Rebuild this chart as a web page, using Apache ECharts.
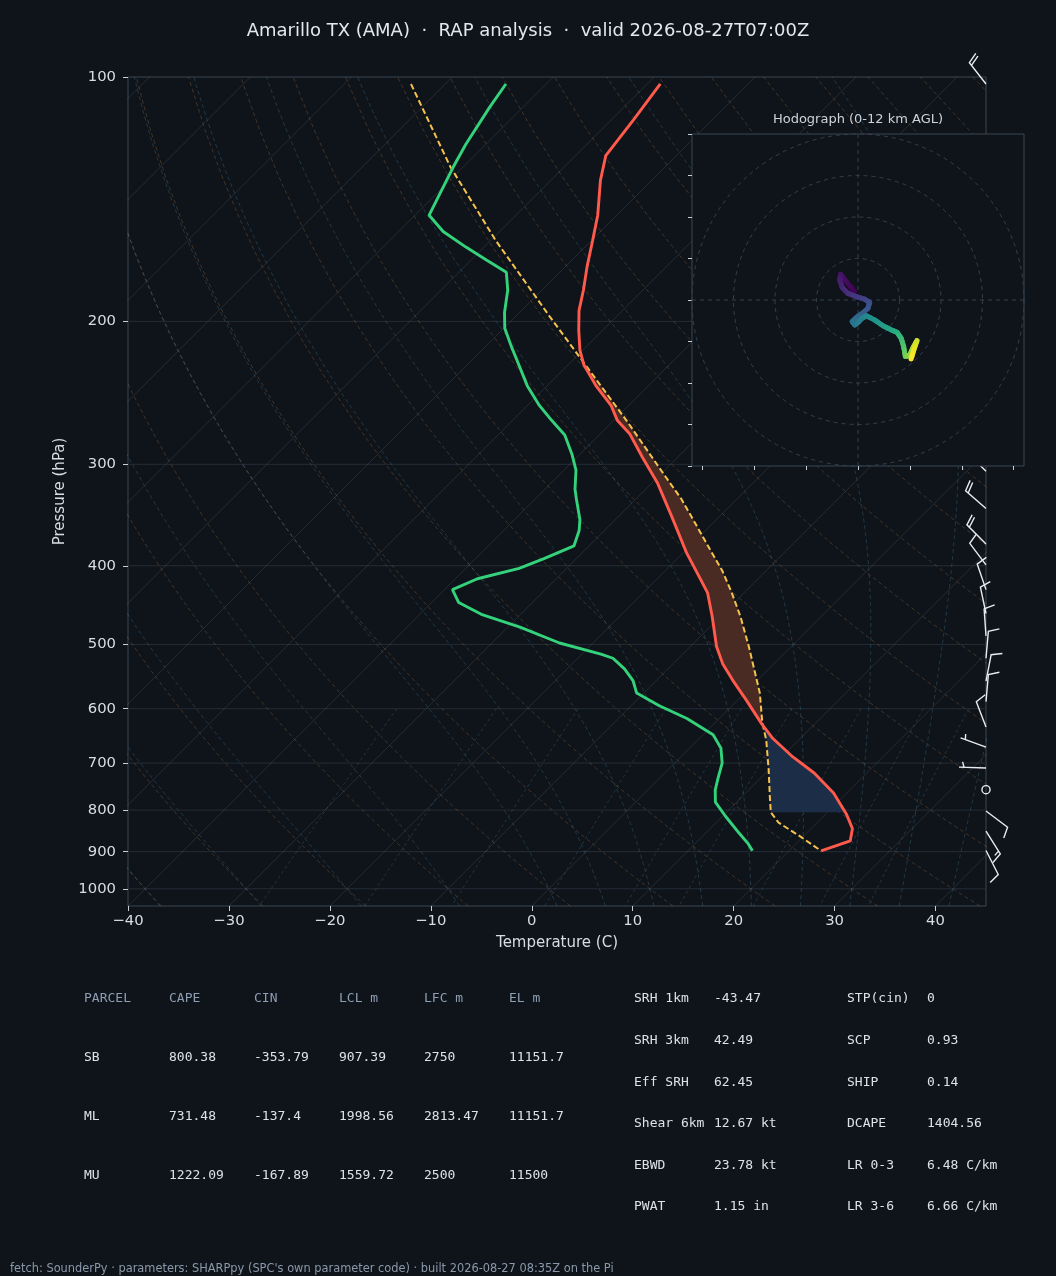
<!DOCTYPE html>
<html>
<head>
    <meta charset="utf-8">
    <title>Amarillo TX (AMA) skew-T</title>
    <script src="https://cdn.jsdelivr.net/npm/echarts@6.0.0/dist/echarts.min.js"></script>
    <style>html, body { margin: 0; padding: 0; background: #0f141a; }</style>
</head>
<body>
<div id="main" style="width: 1056px;height:1276px;"></div>
<script>
    // ---- sounding (hPa, degC), top to surface ----
    var tempP = [102, 113, 125, 134, 148, 159, 171, 183, 194, 205, 217, 226, 240, 254, 265, 275, 294, 316, 348, 386, 416, 432, 462, 503, 528, 554, 586, 626, 653, 688, 720, 762, 808, 843, 873, 898];
    var tempT = [-68.7, -67.8, -67.0, -65.1, -61.9, -59.9, -57.9, -55.9, -54.3, -52.4, -50.3, -48.5, -45.2, -41.7, -39.6, -37.1, -33.5, -29.5, -24.7, -19.6, -15.6, -13.6, -10.8, -7.4, -5.1, -2.4, 0.9, 4.7, 7.3, 11.1, 14.8, 18.7, 22.0, 24.1, 25.1, 23.2];

    var dewP = [102, 109, 121, 129, 139, 148, 155, 162, 168, 174, 183, 195, 204, 215, 223, 240, 254, 265, 276, 292, 305, 322, 331, 351, 362, 378, 392, 403, 415, 428, 444, 459, 476, 498, 514, 520, 536, 554, 574, 595, 617, 646, 671, 700, 731, 756, 782, 814, 855, 879, 898];
    var dewT = [-84.0, -83.3, -82.0, -81.0, -79.7, -78.6, -75.6, -71.8, -68.5, -65.3, -63.4, -61.5, -59.9, -57.4, -55.6, -52.0, -48.8, -46.1, -43.4, -40.7, -38.8, -37.0, -35.9, -33.5, -32.5, -31.5, -33.2, -34.7, -37.8, -39.2, -37.3, -33.9, -28.8, -23.3, -18.1, -16.5, -14.3, -12.3, -10.7, -7.2, -3.2, 1.0, 3.1, 4.7, 5.8, 6.7, 7.9, 10.3, 13.4, 15.2, 16.4];

    var parcelP = [102, 129, 159, 197, 230, 265, 284, 308, 331, 358, 381, 406, 432, 462, 503, 533, 574, 623, 656, 714, 771, 805, 829, 862, 898];
    var parcelT = [-93.4, -81.3, -69.5, -56.7, -47.3, -38.7, -34.6, -29.8, -25.5, -21.2, -17.8, -14.3, -11.2, -8.0, -4.2, -1.7, 1.5, 4.6, 6.8, 10.0, 12.8, 14.4, 16.2, 19.7, 23.2];
    var shadeBottomP = 805;   // shading starts at the parcel LCL

    // ---- wind barbs (hPa, deg from, kt) ----
    var barbP = [102, 306, 340, 376, 399, 428, 458, 488, 520, 555, 588, 632, 669, 710, 755, 802, 849, 897];
    var barbDir = [322, 315, 311, 315, 323, 341, 348, 356, 5, 11, 5, 339, 290, 272, 0, 127, 148, 153];
    var barbSpd = [20, 25, 20, 20, 10, 10, 10, 10, 10, 10, 10, 10, 5, 5, 0, 10, 15, 10];

    // ---- hodograph (kt, km AGL) ----
    var hodoU = [-0.8, -2.8, -4.2, -4.4, -3.8, -2.4, -0.4, 1.6, 2.8, 2.4, 1.0, -0.4, -1.4, -0.8, 0.0, 1.0, 2.0, 4.0, 6.0, 8.0, 9.4, 10.4, 11.0, 11.4, 12.4, 13.2, 14.2, 13.6, 12.8];
    var hodoV = [2.0, 4.4, 6.2, 4.8, 3.0, 1.6, 0.8, 0.2, -0.6, -2.0, -3.2, -4.2, -5.2, -6.0, -5.4, -4.4, -3.8, -4.8, -6.2, -7.2, -7.8, -9.2, -11.2, -13.6, -13.4, -11.6, -9.8, -11.6, -14.2];
    var hodoH = [0, 0.3, 0.6, 0.9, 1.2, 1.5, 1.9, 2.3, 2.7, 3.1, 3.5, 3.9, 4.3, 4.6, 4.9, 5.2, 5.5, 6.0, 6.5, 7.0, 7.4, 7.9, 8.5, 9.3, 9.8, 10.4, 11.0, 11.5, 12.0];
    var hodoRings = [10, 20, 30, 40];
    var hodoXTicks = [-37.5, -25, -12.5, 0, 12.5, 25, 37.5];

    // ---- ticks ----
    var pressureTicks = [100, 200, 300, 400, 500, 600, 700, 800, 900, 1000];
    var tempTicks = [-40, -30, -20, -10, 0, 10, 20, 30, 40];

    // ---- parameter tables ----
    var parcelHeader = ['PARCEL', 'CAPE', 'CIN', 'LCL m', 'LFC m', 'EL m'];
    var parcelRows = [
        ['SB', '800.38', '-353.79', '907.39', '2750', '11151.7'],
        ['ML', '731.48', '-137.4', '1998.56', '2813.47', '11151.7'],
        ['MU', '1222.09', '-167.89', '1559.72', '2500', '11500']
    ];
    var indexLabelsA = ['SRH 1km', 'SRH 3km', 'Eff SRH', 'Shear 6km', 'EBWD', 'PWAT'];
    var indexValuesA = ['-43.47', '42.49', '62.45', '12.67 kt', '23.78 kt', '1.15 in'];
    var indexLabelsB = ['STP(cin)', 'SCP', 'SHIP', 'DCAPE', 'LR 0-3', 'LR 3-6'];
    var indexValuesB = ['0', '0.93', '0.14', '1404.56', '6.48 C/km', '6.66 C/km'];

    var titleText = 'Amarillo TX (AMA)  \u00b7  RAP analysis  \u00b7  valid 2026-08-27T07:00Z';
    var footText = "fetch: SounderPy \u00b7 parameters: SHARPpy (SPC's own parameter code) \u00b7 built 2026-08-27 08:35Z on the Pi";

    // ---- layout / style ----
    var BG = '#0f141a';
    var FRAME = '#3a4653';
    var TXT = '#d9dde2';
    var SANS = '"DejaVu Sans", sans-serif';
    var MONO = '"DejaVu Sans Mono", monospace';
    var G = {left: 128, top: 77, width: 858, height: 829};
    var H = {left: 692, top: 134, width: 332, height: 332};
    var X_MIN = -40, X_MAX = 45;
    var LOG_TOP = 2, LOG_BOT = Math.log10(1050);
    // 45 degree skew: isotherms rise one pixel right for each pixel up
    var SKEW = (G.height / (LOG_BOT - LOG_TOP)) / (G.width / (X_MAX - X_MIN));

    function sk(t, p) {
        var lp = Math.log10(p);
        return [t + SKEW * (LOG_BOT - lp), lp];
    }
    function profile(P, T) {
        return P.map(function (p, i) { return sk(T[i], p); });
    }
    function interpLogP(p, P, T) {
        if (p <= P[0]) return T[0];
        for (var i = 1; i < P.length; i++) {
            if (p <= P[i]) {
                var a = Math.log(P[i - 1]), b = Math.log(P[i]);
                var f = (Math.log(p) - a) / (b - a);
                return T[i - 1] + f * (T[i] - T[i - 1]);
            }
        }
        return T[T.length - 1];
    }
    function linspace(a, b, n) {
        var out = [];
        for (var i = 0; i < n; i++) out.push(a + (b - a) * i / (n - 1));
        return out;
    }

    // thermodynamic reference lines
    var RD = 287.04749, CPD = 1004.67, LV = 2.50084e6, EPS = 0.6219569, KAPPA = RD / CPD;
    function satMix(p, tK) {
        var es = 6.112 * Math.exp(17.67 * (tK - 273.15) / (tK - 29.65));
        return EPS * es / (p - es);
    }
    function moistDt(p, t) {
        var rs = satMix(p, t);
        return (RD * t + LV * rs) / (CPD + (LV * LV * rs * EPS) / (RD * t * t)) / p;
    }
    function moistLine(t0) {
        function run(pEnd, step) {
            var p = 1000, t = t0 + 273.15, out = [[p, t]];
            while ((step < 0 && p > pEnd) || (step > 0 && p < pEnd)) {
                var k1 = moistDt(p, t);
                var k2 = moistDt(p + step / 2, t + step / 2 * k1);
                var k3 = moistDt(p + step / 2, t + step / 2 * k2);
                var k4 = moistDt(p + step, t + step * k3);
                t += step / 6 * (k1 + 2 * k2 + 2 * k3 + k4);
                p += step;
                out.push([p, t]);
            }
            return out;
        }
        var up = run(100, -5), down = run(1050, 5);
        var pts = down.reverse().concat(up.slice(1));
        return pts.map(function (q) { return sk(q[1] - 273.15, q[0]); });
    }

    var bgSeries = [];
    function bgLine(points, color, dash, z) {
        bgSeries.push({
            type: 'line', xAxisIndex: 0, yAxisIndex: 0, data: points, symbol: 'none',
            silent: true, z: z, clip: true,
            lineStyle: {color: color, width: 1, type: dash}
        });
    }
    pressureTicks.forEach(function (p) {
        bgLine([[X_MIN, Math.log10(p)], [X_MAX, Math.log10(p)]], '#242c36', 'solid', 1);
    });
    for (var t0 = -120; t0 <= 40; t0 += 10) {
        bgLine([sk(t0, 1050), sk(t0, 100)], 'rgba(150,160,172,0.17)', 'solid', 1);
    }
    var pLin = linspace(1050, 100, 60);
    for (var td = -40; td <= 240; td += 10) {
        bgLine(pLin.map(function (p) {
            return sk((td + 273.15) * Math.pow(p / 1000, KAPPA) - 273.15, p);
        }), 'rgba(190,125,70,0.30)', [4, 3], 1);
    }
    [-40, -30, -20, -10, 0, 5, 10, 15, 20, 25, 30, 35, 40, 45].forEach(function (tm) {
        bgLine(moistLine(tm), 'rgba(80,150,185,0.28)', [4, 3], 1);
    });
    var pMix = linspace(600, 1050, 40);
    [0.0004, 0.001, 0.002, 0.004, 0.007, 0.01, 0.016, 0.024, 0.032].forEach(function (w) {
        bgLine(pMix.map(function (p) {
            var e = p * w / (EPS + w), l = Math.log(e / 6.112);
            return sk(243.5 * l / (17.67 - l), p);
        }), 'rgba(80,150,185,0.26)', [3, 3], 1);
    });

    // CAPE / CIN areas between parcel and environment
    function shadeAreas() {
        var lv = [], n = 800;
        for (var i = 0; i <= n; i++) {
            lv.push(shadeBottomP * Math.pow(100 / shadeBottomP, i / n));
        }
        var diff = lv.map(function (p) { return interpLogP(p, parcelP, parcelT) - interpLogP(p, tempP, tempT); });
        var lfc = -1, el = -1;
        for (i = 1; i < lv.length; i++) {
            if (lfc < 0 && diff[i - 1] <= 0 && diff[i] > 0) lfc = i;
            else if (lfc >= 0 && diff[i - 1] > 0 && diff[i] <= 0) { el = i; break; }
        }
        if (el < 0) el = lv.length - 1;
        function poly(a, b) {
            var seg = lv.slice(a, b + 1);
            var left = seg.map(function (p) { return sk(interpLogP(p, parcelP, parcelT), p); });
            var right = seg.map(function (p) { return sk(interpLogP(p, tempP, tempT), p); }).reverse();
            return left.concat(right);
        }
        return {cin: poly(0, lfc), cape: poly(lfc, el)};
    }
    var areas = shadeAreas();
    function areaSeries(pts, color) {
        return {
            type: 'custom', xAxisIndex: 0, yAxisIndex: 0, z: 2, silent: true, clip: true,
            data: [[0, 2]],
            renderItem: function (params, api) {
                return {
                    type: 'polygon',
                    shape: {points: pts.map(function (q) { return api.coord(q); })},
                    style: {fill: color}
                };
            }
        };
    }

    function barbShape(cx, cy, dirDeg, spd, L) {
        var col = '#e8ecf0';
        var mag = 5 * Math.round(spd / 5);
        if (mag < 5) {
            return {type: 'circle', shape: {cx: cx, cy: cy, r: 0.15 * L}, style: {fill: null, stroke: col, lineWidth: 1.4}};
        }
        var d = dirDeg * Math.PI / 180;
        var rot = Math.atan2(-Math.cos(d), -Math.sin(d)) + Math.PI / 2;
        var h = 0.4 * L, w = 0.25 * L, sp = 0.125 * L;
        var nf = Math.floor(mag / 50), nb = Math.floor((mag % 50) / 10), half = (mag % 10) >= 5;
        var pts = [[0, 0]], off = L, i;
        for (i = 0; i < nf; i++) {
            if (off !== L) off += sp / 2;
            pts.push([0, off], [h, off - w / 2], [0, off - w]);
            off -= w + sp;
        }
        for (i = 0; i < nb; i++) {
            pts.push([0, off], [h, off + w / 2], [0, off]);
            off -= sp;
        }
        if (half) {
            if (off === L) { pts.push([0, off]); off -= 1.5 * sp; }
            pts.push([0, off], [h / 2, off + w / 4], [0, off]);
        }
        var c = Math.cos(rot), s = Math.sin(rot);
        return {
            type: 'polyline',
            shape: {points: pts.map(function (q) { return [cx + q[0] * c - q[1] * s, cy - (q[0] * s + q[1] * c)]; })},
            style: {fill: null, stroke: col, lineWidth: 1.4}
        };
    }

    var VIRIDIS = ['#440154', '#472d7b', '#3b528b', '#2c728e', '#21918c', '#28ae80', '#5ec962', '#addc30', '#fde725'];
    function viridis(f) {
        f = Math.max(0, Math.min(1, f)) * (VIRIDIS.length - 1);
        var i = Math.min(Math.floor(f), VIRIDIS.length - 2), r = f - i;
        var a = VIRIDIS[i], b = VIRIDIS[i + 1];
        function ch(hex, k) { return parseInt(hex.substr(1 + 2 * k, 2), 16); }
        var out = [0, 1, 2].map(function (k) { return Math.round(ch(a, k) + r * (ch(b, k) - ch(a, k))); });
        return 'rgb(' + out.join(',') + ')';
    }
    var hodoSegs = [];
    for (var k = 0; k < hodoU.length - 1; k++) {
        hodoSegs.push([hodoU[k], hodoV[k], hodoU[k + 1], hodoV[k + 1], hodoH[k], hodoH[k + 1]]);
    }
    var hMax = hodoH[hodoH.length - 1];

    var texts = [];
    function txt(x, y, s, color, font, align) {
        texts.push({
            type: 'text', x: x, y: y, silent: true,
            style: {text: s, fill: color, font: font, textAlign: align || 'left', align: align || 'left',
                textVerticalAlign: 'middle', verticalAlign: 'middle'}
        });
    }
    txt(858, 120, 'Hodograph (0-12 km AGL)', '#cdd3da', '13px ' + SANS, 'center');
    parcelHeader.forEach(function (s, j) { txt(84 + 85 * j, 999, s, '#8d9db2', '13px ' + MONO); });
    parcelRows.forEach(function (row, r) {
        row.forEach(function (s, j) { txt(84 + 85 * j, 1058 + 59 * r, s, '#dde2e8', '13px ' + MONO); });
    });
    indexLabelsA.forEach(function (s, r) {
        var y = 999 + 41.6 * r;
        txt(634, y, s, '#dde2e8', '13px ' + MONO);
        txt(714, y, indexValuesA[r], '#dde2e8', '13px ' + MONO);
        txt(847, y, indexLabelsB[r], '#dde2e8', '13px ' + MONO);
        txt(927, y, indexValuesB[r], '#dde2e8', '13px ' + MONO);
    });
    txt(10, 1269, footText, '#8a98aa', '11.4px ' + SANS);

    var myChart = echarts.init(document.getElementById('main'));
    myChart.setOption({
        backgroundColor: BG,
        animation: false,
        title: {
            text: titleText, left: 'center', top: 17,
            textStyle: {color: '#e4e8ec', fontSize: 18, fontWeight: 'normal', fontFamily: SANS}
        },
        grid: [
            {left: G.left, top: G.top, width: G.width, height: G.height, show: true,
                borderColor: FRAME, borderWidth: 1, backgroundColor: 'transparent', outerBoundsMode: 'none'},
            {left: H.left, top: H.top, width: H.width, height: H.height, show: true, zlevel: 1,
                borderColor: FRAME, borderWidth: 1, backgroundColor: BG, outerBoundsMode: 'none'}
        ],
        xAxis: [
            {
                type: 'value', gridIndex: 0, min: X_MIN, max: X_MAX,
                name: 'Temperature (C)', nameLocation: 'middle', nameGap: 30,
                nameTextStyle: {color: TXT, fontSize: 15, fontFamily: SANS},
                axisLine: {show: false, onZero: false}, splitLine: {show: false},
                axisTick: {show: true, length: 5, customValues: tempTicks, lineStyle: {color: '#c9cfd6'}},
                axisLabel: {
                    customValues: tempTicks, color: TXT, fontSize: 14.8, fontFamily: SANS, margin: 8,
                    formatter: function (v) { return String(v).replace('-', '\u2212'); }
                }
            },
            {
                type: 'value', gridIndex: 1, min: -40, max: 40, zlevel: 1,
                axisLine: {show: false, onZero: false}, splitLine: {show: false}, axisLabel: {show: false},
                axisTick: {show: true, length: 4, customValues: hodoXTicks, lineStyle: {color: '#c9cfd6'}}
            }
        ],
        yAxis: [
            {
                type: 'value', gridIndex: 0, min: LOG_TOP, max: LOG_BOT, inverse: true,
                name: 'Pressure (hPa)', nameLocation: 'middle', nameGap: 53,
                nameTextStyle: {color: TXT, fontSize: 15, fontFamily: SANS},
                axisLine: {show: false, onZero: false}, splitLine: {show: false},
                axisTick: {show: true, length: 5, customValues: pressureTicks.map(Math.log10), lineStyle: {color: '#c9cfd6'}},
                axisLabel: {
                    customValues: pressureTicks.map(Math.log10), color: TXT, fontSize: 14.8, fontFamily: SANS, margin: 12,
                    formatter: function (v) { return String(Math.round(Math.pow(10, v))); }
                }
            },
            {
                type: 'value', gridIndex: 1, min: -40, max: 40, interval: 10, zlevel: 1,
                axisLine: {show: false, onZero: false}, splitLine: {show: false}, axisLabel: {show: false},
                axisTick: {show: true, length: 4, lineStyle: {color: '#c9cfd6'}}
            }
        ],
        graphic: texts,
        series: bgSeries.concat([
            areaSeries(areas.cape, '#4a2b23'),
            areaSeries(areas.cin, '#1b2d47'),
            {
                type: 'line', name: 'Parcel', xAxisIndex: 0, yAxisIndex: 0, z: 3, symbol: 'none', silent: true,
                data: profile(parcelP, parcelT), lineStyle: {color: '#f4c24d', width: 2, type: [6, 3]}
            },
            {
                type: 'line', name: 'Dewpoint', xAxisIndex: 0, yAxisIndex: 0, z: 4, symbol: 'none', silent: true,
                data: profile(dewP, dewT), lineStyle: {color: '#33d27b', width: 2.9}
            },
            {
                type: 'line', name: 'Temperature', xAxisIndex: 0, yAxisIndex: 0, z: 4, symbol: 'none', silent: true,
                data: profile(tempP, tempT), lineStyle: {color: '#ff5a4c', width: 2.9}
            },
            {
                type: 'custom', name: 'Wind', xAxisIndex: 0, yAxisIndex: 0, z: 5, silent: true, clip: false,
                data: barbP.map(function (p, i) { return [X_MAX, Math.log10(p), barbDir[i], barbSpd[i]]; }),
                renderItem: function (params, api) {
                    var c = api.coord([api.value(0), api.value(1)]);
                    return barbShape(c[0], c[1], api.value(2), api.value(3), 27);
                }
            },
            {
                type: 'custom', name: 'Rings', xAxisIndex: 1, yAxisIndex: 1, zlevel: 1, z: 1, silent: true,
                data: [[0, 0]],
                renderItem: function (params, api) {
                    var c = api.coord([0, 0]);
                    var ring = {stroke: '#33404d', fill: null, lineWidth: 1, lineDash: [4, 4]};
                    var kids = hodoRings.map(function (r) {
                        return {type: 'circle', shape: {cx: c[0], cy: c[1], r: api.size([r, r])[0]}, style: ring};
                    });
                    var a = api.coord([-40, 0]), b = api.coord([40, 0]), d = api.coord([0, -40]), e = api.coord([0, 40]);
                    kids.push({type: 'line', shape: {x1: a[0], y1: a[1], x2: b[0], y2: b[1]}, style: ring});
                    kids.push({type: 'line', shape: {x1: d[0], y1: d[1], x2: e[0], y2: e[1]}, style: ring});
                    return {type: 'group', children: kids};
                }
            },
            {
                type: 'custom', name: 'Hodograph', xAxisIndex: 1, yAxisIndex: 1, zlevel: 1, z: 3, silent: true,
                data: hodoSegs,
                renderItem: function (params, api) {
                    var u0 = api.value(0), v0 = api.value(1), u1 = api.value(2), v1 = api.value(3);
                    var h0 = api.value(4), h1 = api.value(5), kids = [], n = 4;
                    for (var s = 0; s < n; s++) {
                        var fa = s / n, fb = (s + 1) / n;
                        var pa = api.coord([u0 + (u1 - u0) * fa, v0 + (v1 - v0) * fa]);
                        var pb = api.coord([u0 + (u1 - u0) * fb, v0 + (v1 - v0) * fb]);
                        kids.push({
                            type: 'line', shape: {x1: pa[0], y1: pa[1], x2: pb[0], y2: pb[1]},
                            style: {stroke: viridis((h0 + (h1 - h0) * (fa + fb) / 2) / hMax), lineWidth: 5, lineCap: 'round'}
                        });
                    }
                    return {type: 'group', children: kids};
                }
            }
        ])
    });
</script>
</body>
</html>
